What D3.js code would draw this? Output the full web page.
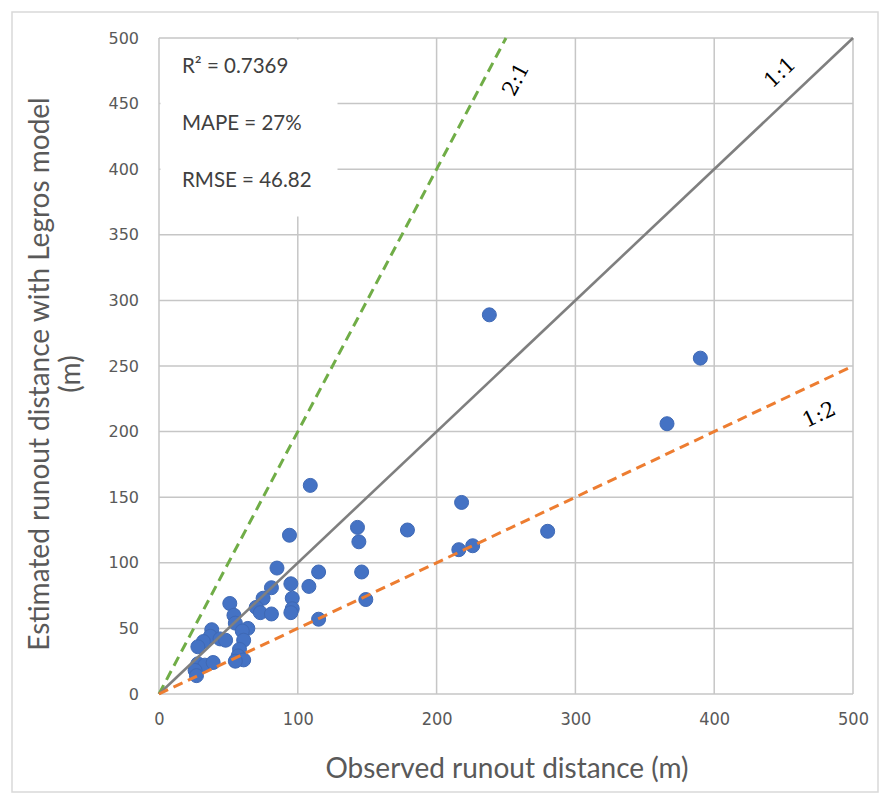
<!DOCTYPE html>
<html><head><meta charset="utf-8">
<script src="https://cdn.jsdelivr.net/npm/d3@7"></script>
<style>body{margin:0;background:#fff}svg{display:block}</style>
</head><body>
<script>
const observed = [238,390,366,109,218,143,179,280,94,144,226,216,85,115,146,95,108,81,149,96,75,96,95,115,70,73,81,51,54,55,64,60,38,37,44,48,61,32,28,58,57,61,55,28,33,39,26,27];
const estimated = [289,256,206,159,146,127,125,124,121,116,113,110,96,93,93,84,82,81,72,73,73,65,62,57,66,62,61,69,60,54,50,48,49,44,42,41,41,40,36,34,29,26,25,23,22,24,18,14];
const xTicks = [0,100,200,300,400,500];
const yTicks = [0,50,100,150,200,250,300,350,400,450,500];
const refLines = [
  {name:"2:1", slope:2, color:"#70ad47", dash:"10,6", width:3},
  {name:"1:1", slope:1, color:"#7f7f7f", dash:null, width:2.6},
  {name:"1:2", slope:0.5, color:"#ed7d31", dash:"10,6", width:3}
];
const stats = ["R² = 0.7369","MAPE = 27%","RMSE = 46.82"];

const W=884,H=799;
const svg=d3.select("body").append("svg").attr("width",W).attr("height",H);
svg.append("rect").attr("x",12).attr("y",12).attr("width",866).attr("height",780)
  .attr("fill","#fff").attr("stroke","#d9d9d9").attr("stroke-width",1.5);

const x=d3.scaleLinear().domain([0,500]).range([159,853]);
const y=d3.scaleLinear().domain([0,500]).range([694,38]);

// gridlines
const grid=svg.append("g");
grid.selectAll(".vx").data(xTicks).join("line")
  .attr("x1",d=>x(d)).attr("x2",d=>x(d)).attr("y1",y(0)).attr("y2",y(500))
  .attr("stroke","#c6c6c6").attr("stroke-width",1.5);
grid.selectAll(".hy").data(yTicks).join("line")
  .attr("x1",x(0)).attr("x2",x(500)).attr("y1",d=>y(d)).attr("y2",d=>y(d))
  .attr("stroke","#c6c6c6").attr("stroke-width",1.5);

// text box
svg.append("rect").attr("x",x(0)+1.5).attr("y",y(500)+1.5).attr("width",177).attr("height",177).attr("fill","#fff");
svg.append("g").selectAll("text").data(stats).join("text")
  .attr("x",182).attr("y",(d,i)=>73+i*57)
  .attr("font-family","Lato, 'Open Sans', sans-serif").attr("font-size",20.5).attr("fill","#404040")
  .text(d=>d);

// axes
const yAxis=svg.append("g").attr("transform",`translate(${x(0)-20},0)`)
  .call(d3.axisLeft(y).tickValues(yTicks).tickSize(0).tickPadding(0));
yAxis.select(".domain").remove();
yAxis.selectAll("text").attr("font-family","'DejaVu Sans', sans-serif").attr("font-size",16).attr("fill","#595959");

const xAxis=svg.append("g").attr("transform",`translate(0,${y(0)+12})`)
  .call(d3.axisBottom(x).tickValues(xTicks).tickSize(0).tickPadding(6));
xAxis.select(".domain").remove();
xAxis.selectAll("text").attr("font-family","'Liberation Sans Narrow','DejaVu Sans Condensed', sans-serif").attr("font-size",18).attr("fill","#595959");

// points
svg.append("g").selectAll("circle").data(observed).join("circle")
  .attr("cx",d=>x(d)).attr("cy",(d,i)=>y(estimated[i])).attr("r",7)
  .attr("fill","#4472c4").attr("stroke","#3f69b5").attr("stroke-width",1);

// reference lines
svg.append("g").selectAll("line").data(refLines).join("line")
  .attr("x1",x(0)).attr("y1",y(0))
  .attr("x2",d=>x(Math.min(500,500/d.slope))).attr("y2",d=>y(Math.min(500,500*d.slope)))
  .attr("stroke",d=>d.color).attr("stroke-width",d=>d.width)
  .attr("stroke-dasharray",d=>d.dash);

// line labels
const labelPos=[{v:[258,468]},{v:[448,473]},{v:[476,212]}];
svg.append("g").selectAll("text").data(refLines).join("text")
  .attr("transform",(d,i)=>{
    const ang=-Math.atan(d.slope*(y(0)-y(1))/(x(1)-x(0)))*180/Math.PI;
    return `translate(${x(labelPos[i].v[0])},${y(labelPos[i].v[1])}) rotate(${ang})`;})
  .attr("text-anchor","middle").attr("dominant-baseline","middle")
  .attr("font-family","'DejaVu Serif','Liberation Serif',serif").attr("font-size",21).attr("fill","#000")
  .text(d=>d.name);

// titles
svg.append("text").attr("x",507).attr("y",778).attr("text-anchor","middle")
  .attr("font-family","Lato, sans-serif").attr("font-size",28).attr("fill","#595959")
  .text("Observed runout distance (m)");
const yt=svg.append("text").attr("transform",`translate(49,${y(250)+8}) rotate(-90)`)
  .attr("text-anchor","middle").attr("font-family","Lato, sans-serif").attr("font-size",28).attr("fill","#595959");
yt.append("tspan").attr("x",0).attr("y",0).text("Estimated runout distance with Legros model");
yt.append("tspan").attr("x",0).attr("y",31).text("(m)");
</script>
</body></html>
